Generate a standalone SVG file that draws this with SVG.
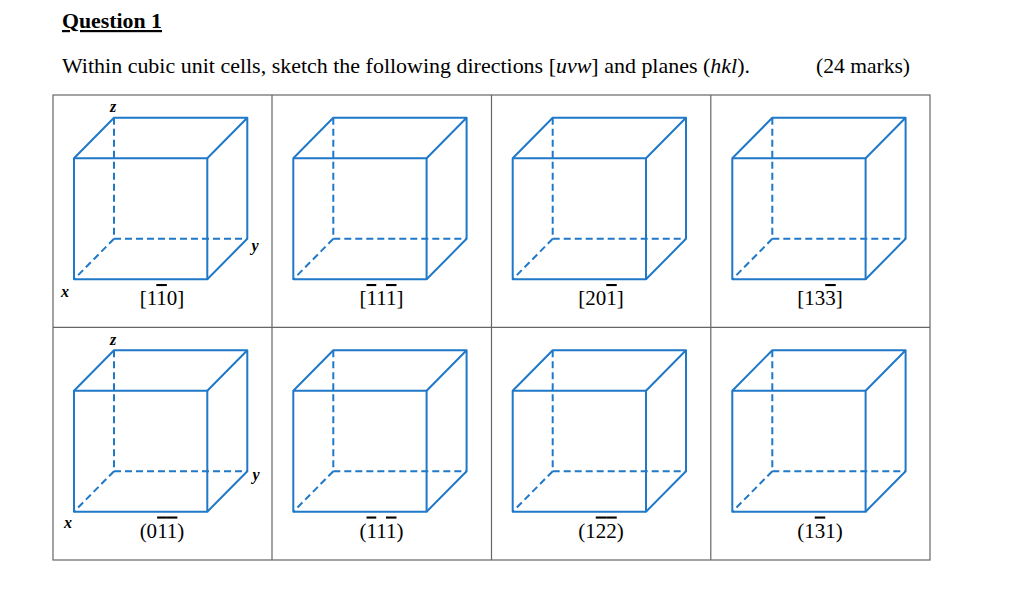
<svg xmlns="http://www.w3.org/2000/svg" xmlns:xlink="http://www.w3.org/1999/xlink" width="1024" height="593" viewBox="0 0 1024 593">
<style>
.edge{fill:none;stroke:#1f78c8;stroke-width:2;stroke-linejoin:round;stroke-linecap:butt}
.hid{fill:none;stroke:#1f78c8;stroke-width:2;stroke-dasharray:7 4}
.grid{fill:none;stroke:#666;stroke-width:1.2}
.t{font-family:"Liberation Serif","Times New Roman",serif;fill:#000}
.ax{font-family:"Liberation Serif","Times New Roman",serif;font-style:italic;font-weight:bold;font-size:16px;fill:#000}
.lab{font-family:"Liberation Serif","Times New Roman",serif;font-size:21px;fill:#000;text-anchor:middle}
.bar{text-decoration:overline}
</style>
<defs>
<g id="cube">
<rect class="edge" x="0" y="0" width="133.3" height="121"/>
<path class="edge" d="M0,0 L40,-40.5 L173.3,-40.5 L133.3,0 M173.3,-40.5 L173.3,80.5 L133.3,121"/>
<path class="hid" d="M40,-40.5 L40,80.5 L173.3,80.5 M40,80.5 L0,121"/>
</g>
</defs>
<rect width="1024" height="593" fill="#fff"/>
<g id="header">
<text class="t" x="62" y="28" font-size="22" font-weight="bold" text-decoration="underline" textLength="100" lengthAdjust="spacingAndGlyphs">Question 1</text>
<text class="t" x="62" y="73" font-size="21" textLength="688" lengthAdjust="spacingAndGlyphs">Within cubic unit cells, sketch the following directions [<tspan font-style="italic">uvw</tspan>] and planes (<tspan font-style="italic">hkl</tspan>).</text>
<text class="t" x="816" y="73" font-size="21" textLength="94" lengthAdjust="spacingAndGlyphs">(24 marks)</text>
</g>
<g id="table">
<rect class="grid" x="53" y="95" width="877" height="465"/>
<path class="grid" d="M53,327.3 H930 M272,95 V560 M491.5,95 V560 M710.8,95 V560"/>
</g>
<g id="cell-r1c1">
<use xlink:href="#cube" transform="translate(74,158.3)"/>
<text class="ax" x="113" y="112" text-anchor="middle">z</text>
<text class="ax" x="255" y="251" text-anchor="middle">y</text>
<text class="ax" x="65" y="297" text-anchor="middle">x</text>
<text class="lab" x="162" y="305">[1<tspan class="bar">1</tspan>0]</text>
</g>
<g id="cell-r1c2">
<use xlink:href="#cube" transform="translate(293.3,158.3)"/>
<text class="lab" x="381.5" y="305">[<tspan class="bar">1</tspan>1<tspan class="bar">1</tspan>]</text>
</g>
<g id="cell-r1c3">
<use xlink:href="#cube" transform="translate(512.7,158.3)"/>
<text class="lab" x="601" y="305">[20<tspan class="bar">1</tspan>]</text>
</g>
<g id="cell-r1c4">
<use xlink:href="#cube" transform="translate(732.3,158.3)"/>
<text class="lab" x="820" y="305">[13<tspan class="bar">3</tspan>]</text>
</g>
<g id="cell-r2c1">
<use xlink:href="#cube" transform="translate(74,390.7)"/>
<text class="ax" x="113" y="345" text-anchor="middle">z</text>
<text class="ax" x="256" y="480" text-anchor="middle">y</text>
<text class="ax" x="68" y="528" text-anchor="middle">x</text>
<text class="lab" x="162" y="537.5">(0<tspan class="bar">1</tspan><tspan class="bar">1</tspan>)</text>
</g>
<g id="cell-r2c2">
<use xlink:href="#cube" transform="translate(293.3,390.7)"/>
<text class="lab" x="381.5" y="537.5">(<tspan class="bar">1</tspan>1<tspan class="bar">1</tspan>)</text>
</g>
<g id="cell-r2c3">
<use xlink:href="#cube" transform="translate(512.7,390.7)"/>
<text class="lab" x="601" y="537.5">(1<tspan class="bar">2</tspan><tspan class="bar">2</tspan>)</text>
</g>
<g id="cell-r2c4">
<use xlink:href="#cube" transform="translate(732.3,390.7)"/>
<text class="lab" x="820" y="537.5">(1<tspan class="bar">3</tspan>1)</text>
</g>
<g id="connectors"/>
</svg>
